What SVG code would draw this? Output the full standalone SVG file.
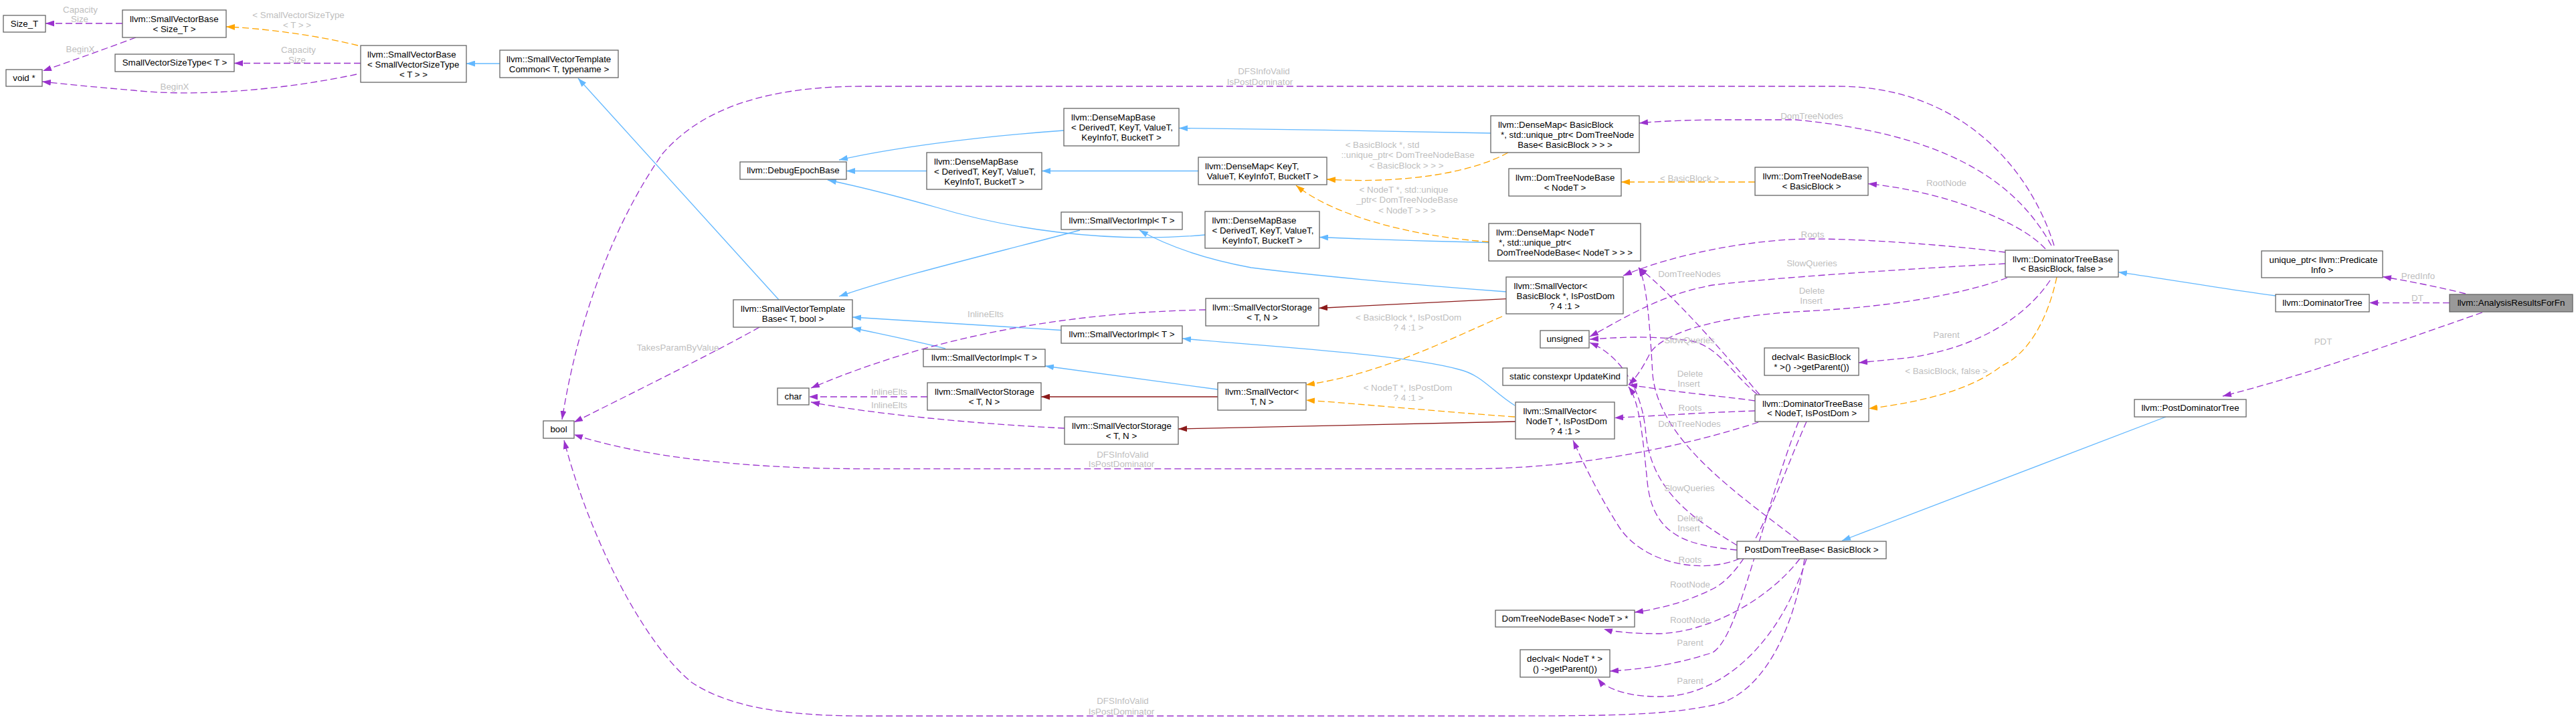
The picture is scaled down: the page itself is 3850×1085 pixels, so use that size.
<svg xmlns="http://www.w3.org/2000/svg" width="3850" height="1085" viewBox="0 0 3850 1085">
<style>
.n rect{fill:#fff;stroke:#666;stroke-width:1.3}
.n text{font-family:"Liberation Sans",Arial,sans-serif;font-size:13.33px;fill:#000;text-anchor:middle}
.n text.l{text-anchor:start}
#n39 rect{fill:#999}
.e path{fill:none;stroke-width:1.3}
.p{stroke:#9a32cd;stroke-dasharray:10,5}
.o{stroke:#ffa500;stroke-dasharray:10,5}
.b{stroke:#63b8ff}
.r{stroke:#8b1a1a}
.lb text{font-family:"Liberation Sans",Arial,sans-serif;font-size:13.33px;fill:#bebebe;text-anchor:middle}
</style>
<defs>
<marker id="ap" viewBox="0 0 13 9" refX="13" refY="4.5" markerWidth="13" markerHeight="9" markerUnits="userSpaceOnUse" orient="auto"><path d="M0,0L13,4.5L0,9z" fill="#9a32cd"/></marker>
<marker id="ao" viewBox="0 0 13 9" refX="13" refY="4.5" markerWidth="13" markerHeight="9" markerUnits="userSpaceOnUse" orient="auto"><path d="M0,0L13,4.5L0,9z" fill="#ffa500"/></marker>
<marker id="ab" viewBox="0 0 13 9" refX="13" refY="4.5" markerWidth="13" markerHeight="9" markerUnits="userSpaceOnUse" orient="auto"><path d="M0,0L13,4.5L0,9z" fill="#63b8ff"/></marker>
<marker id="ar" viewBox="0 0 13 9" refX="13" refY="4.5" markerWidth="13" markerHeight="9" markerUnits="userSpaceOnUse" orient="auto"><path d="M0,0L13,4.5L0,9z" fill="#8b1a1a"/></marker>
</defs>
<rect width="3850" height="1085" fill="#fff"/>
<g id="edges" class="e">
<path class="p" marker-end="url(#ap)" d="M183,35 L68,35"/>
<path class="p" marker-end="url(#ap)" d="M203,56 C160,72 110,90 64,106"/>
<path class="o" marker-end="url(#ao)" d="M535,68 C470,52 390,42 338,40"/>
<path class="p" marker-end="url(#ap)" d="M539,94.5 L350,94.5"/>
<path class="p" marker-end="url(#ap)" d="M533,111 C420,135 290,145 200,135 C140,130 90,125 63,122"/>
<path class="b" marker-end="url(#ab)" d="M747,95 L697,95"/>
<path class="b" marker-end="url(#ab)" d="M1164,448 L864,117"/>
<path class="b" marker-end="url(#ab)" d="M1590,195 C1450,205 1330,222 1254,239"/>
<path class="b" marker-end="url(#ab)" d="M1385,255.5 L1265,255.5"/>
<path class="b" marker-end="url(#ab)" d="M1801,351 C1650,365 1500,340 1400,310 C1340,293 1280,278 1237,269"/>
<path class="b" marker-end="url(#ab)" d="M1791,255.5 L1557,255.5"/>
<path class="b" marker-end="url(#ab)" d="M2228,199 C2100,196 1900,193 1762,191.5"/>
<path class="b" marker-end="url(#ab)" d="M2225,362.5 C2100,360 2030,357 1972,354.5"/>
<path class="o" marker-end="url(#ao)" d="M2254,228 C2200,258 2100,275 1983,268"/>
<path class="o" marker-end="url(#ao)" d="M2225,361.5 C2100,352 1990,320 1937,277"/>
<path class="b" marker-end="url(#ab)" d="M1614,344 C1500,375 1350,410 1254,443"/>
<path class="b" marker-end="url(#ab)" d="M1586,493.5 C1450,485 1350,479 1274,474"/>
<path class="b" marker-end="url(#ab)" d="M1413,521 C1370,510 1320,500 1274,490"/>
<path class="b" marker-end="url(#ab)" d="M2251,436 C2100,425 1950,410 1870,400 C1790,385 1740,365 1703,344"/>
<path class="r" marker-end="url(#ar)" d="M2251,446.6 L1971,460.5"/>
<path class="b" marker-end="url(#ab)" d="M2264,606 C2230,585 2215,560 2180,552 C2100,530 1900,518 1767,506"/>
<path class="b" marker-end="url(#ab)" d="M1820,582 L1562,547"/>
<path class="r" marker-end="url(#ar)" d="M1820,593 L1556,593"/>
<path class="r" marker-end="url(#ar)" d="M2265,630 L1761,641"/>
<path class="o" marker-end="url(#ao)" d="M2245,473 C2160,510 2060,560 1952,575"/>
<path class="o" marker-end="url(#ao)" d="M2264,623 C2150,615 2050,605 1952,598"/>
<path class="p" marker-end="url(#ap)" d="M1802,463 C1600,467 1400,500 1212,580"/>
<path class="p" marker-end="url(#ap)" d="M1386,593 L1209,593"/>
<path class="p" marker-end="url(#ap)" d="M1591,640 C1450,633 1300,618 1212,601"/>
<path class="p" marker-end="url(#ap)" d="M1135,489 C1080,520 980,570 858,631"/>
<path class="p" marker-end="url(#ap)" d="M3070,367 C3030,240 2920,129 2747,129 L1290,129 C1150,129 1050,160 990,230 C920,330 865,470 840,627"/>
<path class="p" marker-end="url(#ap)" d="M2628,631 C2570,650 2400,700 2200,700.6 L1290,700.6 C1100,700.6 950,680 858,649.5"/>
<path class="p" marker-end="url(#ap)" d="M2697,835 C2680,950 2630,1040 2560,1054 C2480,1070 2400,1070 2200,1070 L1290,1070 C1150,1070 1080,1050 1034,1020 C960,960 880,800 843,658"/>
<path class="p" marker-end="url(#ap)" d="M3066,367 C3010,265 2900,200 2684,179 L2560,179 C2500,180 2470,182 2450,184"/>
<path class="p" marker-end="url(#ap)" d="M3057,372 C3020,330 2900,285 2792,274.6"/>
<path class="p" marker-end="url(#ap)" d="M2997,377 C2900,365 2780,357 2709,357 C2620,357 2500,380 2426,412"/>
<path class="p" marker-end="url(#ap)" d="M2997,394 C2850,402 2650,415 2560,426 C2480,440 2420,480 2376,503"/>
<path class="p" marker-end="url(#ap)" d="M3000,415 C2920,445 2800,460 2700,465 C2560,472 2480,500 2465,530 C2455,550 2445,565 2434,575"/>
<path class="p" marker-end="url(#ap)" d="M3064,419 C3030,470 2960,520 2850,535 L2778,542"/>
<path class="o" marker-end="url(#ao)" d="M3074,414 C3060,480 3030,530 2991,547 C2950,580 2880,600 2793,610.6"/>
<path class="b" marker-end="url(#ab)" d="M3401,442 C3300,428 3210,413 3166,406.7"/>
<path class="b" marker-end="url(#ab)" d="M3237,623 L2753,808"/>
<path class="p" marker-end="url(#ap)" d="M3685,439 C3650,430 3600,420 3561,413.6"/>
<path class="p" marker-end="url(#ap)" d="M3661,452.6 L3541,452.6"/>
<path class="p" marker-end="url(#ap)" d="M3710,467 C3600,505 3450,560 3322,592"/>
<path class="o" marker-end="url(#ao)" d="M2623,272 L2423,272"/>
<path class="p" marker-end="url(#ap)" d="M2623,599 C2590,594 2520,588 2434,575"/>
<path class="p" marker-end="url(#ap)" d="M2623,614 C2560,616 2480,621 2413,624.5"/>
<path class="p" marker-end="url(#ap)" d="M2630,590 C2570,520 2500,440 2449,400"/>
<path class="p" marker-end="url(#ap)" d="M2626,589 C2590,560 2570,520 2530,510 C2470,500 2410,505 2376,507"/>
<path class="p" marker-end="url(#ap)" d="M2700,630 C2660,720 2620,850 2560,880 C2520,900 2480,910 2443,915"/>
<path class="p" marker-end="url(#ap)" d="M2688,630 C2630,780 2600,950 2560,975 C2500,995 2450,1000 2406,1003"/>
<path class="p" marker-end="url(#ap)" d="M2688,808 C2600,740 2480,660 2470,560 C2465,470 2460,420 2449,400"/>
<path class="p" marker-end="url(#ap)" d="M2596,815 C2540,780 2470,740 2460,650 C2455,580 2420,530 2376,512"/>
<path class="p" marker-end="url(#ap)" d="M2596,822 C2520,815 2470,800 2462,720 C2455,650 2450,600 2434,578"/>
<path class="p" marker-end="url(#ap)" d="M2600,835 C2540,860 2450,840 2417,783 C2390,740 2370,700 2351,658"/>
<path class="p" marker-end="url(#ap)" d="M2690,835 C2640,900 2550,945 2480,947 C2440,947 2410,944 2397,940"/>
<path class="p" marker-end="url(#ap)" d="M2700,835 C2660,960 2580,1030 2500,1040 C2440,1045 2400,1030 2388,1014"/>
</g>
<g class="lb">
<text x="120" y="18.5">Capacity</text><text x="119" y="33">Size</text>
<text x="120" y="77.5">BeginX</text>
<text x="446" y="27">&lt; SmallVectorSizeType</text><text x="444" y="42">&lt; T &gt; &gt;</text>
<text x="446" y="78.5">Capacity</text><text x="444" y="93.5">Size</text>
<text x="261" y="133.5">BeginX</text>
<text x="1013" y="523.5">TakesParamByValue</text>
<text x="1889" y="110.5">DFSInfoValid</text><text x="1883" y="126.5">IsPostDominator</text>
<text x="2066" y="221">&lt; BasicBlock *, std</text><text x="2104" y="236">::unique_ptr&lt; DomTreeNodeBase</text><text x="2102" y="251.5">&lt; BasicBlock &gt; &gt; &gt;</text>
<text x="2098" y="288">&lt; NodeT *, std::unique</text><text x="2103" y="302.5">_ptr&lt; DomTreeNodeBase</text><text x="2103" y="318.5">&lt; NodeT &gt; &gt; &gt;</text>
<text x="2525" y="270.5">&lt; BasicBlock &gt;</text>
<text x="2105" y="479">&lt; BasicBlock *, IsPostDom</text><text x="2105" y="494">? 4 :1 &gt;</text>
<text x="2104" y="583.5">&lt; NodeT *, IsPostDom</text><text x="2105" y="599">? 4 :1 &gt;</text>
<text x="1473" y="473.5">InlineElts</text>
<text x="1329" y="590">InlineElts</text>
<text x="1329" y="609.5">InlineElts</text>
<text x="1678" y="683.5">DFSInfoValid</text><text x="1676" y="698">IsPostDominator</text>
<text x="1678" y="1052">DFSInfoValid</text><text x="1676" y="1067.5">IsPostDominator</text>
<text x="2708" y="177.5">DomTreeNodes</text>
<text x="2909" y="278">RootNode</text>
<text x="2709" y="354.5">Roots</text>
<text x="2708" y="398">SlowQueries</text>
<text x="2708" y="439">Delete</text><text x="2707" y="454">Insert</text>
<text x="2909" y="505">Parent</text>
<text x="2909" y="559">&lt; BasicBlock, false &gt;</text>
<text x="3614" y="417">PredInfo</text>
<text x="3613" y="449.5">DT</text>
<text x="3472" y="514.5">PDT</text>
<text x="2525" y="414">DomTreeNodes</text>
<text x="2525" y="513">SlowQueries</text>
<text x="2526" y="562.5">Delete</text><text x="2524" y="578">Insert</text>
<text x="2526" y="614">Roots</text>
<text x="2525" y="637.5">DomTreeNodes</text>
<text x="2525" y="734">SlowQueries</text>
<text x="2526" y="779">Delete</text><text x="2524" y="794">Insert</text>
<text x="2526" y="841">Roots</text>
<text x="2526" y="878">RootNode</text>
<text x="2526" y="931">RootNode</text>
<text x="2526" y="965">Parent</text>
<text x="2526" y="1021.5">Parent</text>
</g>
<g id="n1" class="n"><rect x="5" y="23" width="63" height="25"/><text x="36.5" y="40">Size_T</text></g>
<g id="n2" class="n"><rect x="9" y="104" width="54" height="25"/><text x="36" y="121">void *</text></g>
<g id="n3" class="n"><rect x="183" y="15" width="155" height="41"/><text class="l" x="194" y="33">llvm::SmallVectorBase</text><text x="260.5" y="48">&lt; Size_T &gt;</text></g>
<g id="n4" class="n"><rect x="172" y="81" width="178" height="26"/><text x="261" y="98">SmallVectorSizeType&lt; T &gt;</text></g>
<g id="n5" class="n"><rect x="539" y="68" width="158" height="55"/><text class="l" x="549" y="85.5">llvm::SmallVectorBase</text><text class="l" x="549" y="100.5">&lt; SmallVectorSizeType</text><text x="618" y="115.5">&lt; T &gt; &gt;</text></g>
<g id="n6" class="n"><rect x="747" y="75" width="177" height="41"/><text class="l" x="757" y="93">llvm::SmallVectorTemplate</text><text x="835.5" y="108">Common&lt; T, typename &gt;</text></g>
<g id="n7" class="n"><rect x="1106" y="242" width="159" height="26"/><text x="1185.5" y="259">llvm::DebugEpochBase</text></g>
<g id="n8" class="n"><rect x="1096" y="448" width="178" height="41"/><text class="l" x="1107" y="466">llvm::SmallVectorTemplate</text><text x="1185" y="481">Base&lt; T, bool &gt;</text></g>
<g id="n9" class="n"><rect x="812" y="629" width="46" height="26"/><text x="835" y="646">bool</text></g>
<g id="n10" class="n"><rect x="1162" y="580" width="47" height="25"/><text x="1185.5" y="597">char</text></g>
<g id="n11" class="n"><rect x="1590" y="162" width="172" height="56"/><text class="l" x="1601" y="179.5">llvm::DenseMapBase</text><text class="l" x="1601" y="194.5">&lt; DerivedT, KeyT, ValueT,</text><text x="1676" y="209.5">KeyInfoT, BucketT &gt;</text></g>
<g id="n12" class="n"><rect x="1385" y="228" width="172" height="55"/><text class="l" x="1396" y="245.5">llvm::DenseMapBase</text><text class="l" x="1396" y="260.5">&lt; DerivedT, KeyT, ValueT,</text><text x="1471" y="275.5">KeyInfoT, BucketT &gt;</text></g>
<g id="n13" class="n"><rect x="1801" y="316" width="171" height="55"/><text class="l" x="1811.5" y="333.5">llvm::DenseMapBase</text><text class="l" x="1811.5" y="348.5">&lt; DerivedT, KeyT, ValueT,</text><text x="1886.5" y="363.5">KeyInfoT, BucketT &gt;</text></g>
<g id="n14" class="n"><rect x="1791" y="235" width="192" height="41"/><text class="l" x="1801" y="253">llvm::DenseMap&lt; KeyT,</text><text x="1887" y="268">ValueT, KeyInfoT, BucketT &gt;</text></g>
<g id="n15" class="n"><rect x="1586" y="317" width="181" height="26"/><text x="1676.5" y="334">llvm::SmallVectorImpl&lt; T &gt;</text></g>
<g id="n16" class="n"><rect x="1802" y="446" width="169" height="41"/><text class="l" x="1812" y="464">llvm::SmallVectorStorage</text><text x="1886.5" y="479">&lt; T, N &gt;</text></g>
<g id="n17" class="n"><rect x="1586" y="487" width="181" height="26"/><text x="1676.5" y="504">llvm::SmallVectorImpl&lt; T &gt;</text></g>
<g id="n18" class="n"><rect x="1380" y="522" width="182" height="26"/><text x="1471" y="539">llvm::SmallVectorImpl&lt; T &gt;</text></g>
<g id="n19" class="n"><rect x="1386" y="572" width="170" height="41"/><text class="l" x="1397" y="590">llvm::SmallVectorStorage</text><text x="1471" y="605">&lt; T, N &gt;</text></g>
<g id="n20" class="n"><rect x="1820" y="572" width="132" height="41"/><text class="l" x="1831" y="590">llvm::SmallVector&lt;</text><text x="1886" y="605">T, N &gt;</text></g>
<g id="n21" class="n"><rect x="1591" y="623" width="170" height="41"/><text class="l" x="1602" y="641">llvm::SmallVectorStorage</text><text x="1676" y="656">&lt; T, N &gt;</text></g>
<g id="n22" class="n"><rect x="2228" y="173" width="222" height="55"/><text class="l" x="2239" y="190.5">llvm::DenseMap&lt; BasicBlock</text><text class="l" x="2243" y="205.5">*, std::unique_ptr&lt; DomTreeNode</text><text x="2339" y="220.5">Base&lt; BasicBlock &gt; &gt; &gt;</text></g>
<g id="n23" class="n"><rect x="2255" y="252" width="168" height="41"/><text class="l" x="2265" y="270">llvm::DomTreeNodeBase</text><text x="2339" y="285">&lt; NodeT &gt;</text></g>
<g id="n24" class="n"><rect x="2225" y="334" width="227" height="56"/><text class="l" x="2236" y="351.5">llvm::DenseMap&lt; NodeT</text><text class="l" x="2240" y="366.5">*, std::unique_ptr&lt;</text><text x="2338.5" y="381.5">DomTreeNodeBase&lt; NodeT &gt; &gt; &gt;</text></g>
<g id="n25" class="n"><rect x="2251" y="414" width="175" height="55"/><text class="l" x="2262.5" y="431.5">llvm::SmallVector&lt;</text><text class="l" x="2266.5" y="446.5">BasicBlock *, IsPostDom</text><text x="2338.5" y="461.5">? 4 :1 &gt;</text></g>
<g id="n26" class="n"><rect x="2302" y="494" width="73" height="26"/><text x="2338.5" y="511">unsigned</text></g>
<g id="n27" class="n"><rect x="2246" y="550" width="186" height="26"/><text x="2339" y="567">static constexpr UpdateKind</text></g>
<g id="n28" class="n"><rect x="2265" y="601" width="148" height="55"/><text class="l" x="2276.5" y="618.5">llvm::SmallVector&lt;</text><text class="l" x="2280.5" y="633.5">NodeT *, IsPostDom</text><text x="2339" y="648.5">? 4 :1 &gt;</text></g>
<g id="n29" class="n"><rect x="2235" y="912" width="208" height="25"/><text x="2339" y="929">DomTreeNodeBase&lt; NodeT &gt; *</text></g>
<g id="n30" class="n"><rect x="2272" y="971" width="134" height="41"/><text class="l" x="2282" y="989">declval&lt; NodeT * &gt;</text><text x="2339" y="1004">() -&gt;getParent())</text></g>
<g id="n31" class="n"><rect x="2623" y="250" width="169" height="42"/><text class="l" x="2634.6" y="268">llvm::DomTreeNodeBase</text><text x="2707.5" y="283">&lt; BasicBlock &gt;</text></g>
<g id="n32" class="n"><rect x="2637" y="520" width="141" height="41"/><text class="l" x="2648" y="538">declval&lt; BasicBlock</text><text x="2707.5" y="553">* &gt;() -&gt;getParent())</text></g>
<g id="n33" class="n"><rect x="2623" y="590" width="170" height="40"/><text class="l" x="2634" y="607.5">llvm::DominatorTreeBase</text><text x="2708" y="622">&lt; NodeT, IsPostDom &gt;</text></g>
<g id="n34" class="n"><rect x="2596" y="809" width="223" height="26"/><text x="2707.5" y="826">PostDomTreeBase&lt; BasicBlock &gt;</text></g>
<g id="n35" class="n"><rect x="2997" y="374" width="169" height="40"/><text class="l" x="3008" y="391.5">llvm::DominatorTreeBase</text><text x="3081.5" y="406">&lt; BasicBlock, false &gt;</text></g>
<g id="n36" class="n"><rect x="3380" y="375" width="181" height="40"/><text class="l" x="3391.5" y="392.5">unique_ptr&lt; llvm::Predicate</text><text x="3470.5" y="407.5">Info &gt;</text></g>
<g id="n37" class="n"><rect x="3401" y="440" width="140" height="26"/><text x="3471" y="457">llvm::DominatorTree</text></g>
<g id="n38" class="n"><rect x="3190" y="597" width="167" height="26"/><text x="3273.5" y="614">llvm::PostDominatorTree</text></g>
<g id="n39" class="n"><rect x="3661" y="440" width="184" height="26"/><text x="3753" y="457">llvm::AnalysisResultsForFn</text></g>
</svg>
